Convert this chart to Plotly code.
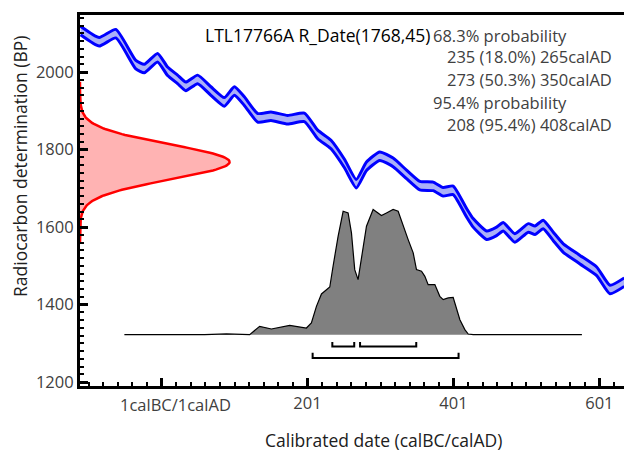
import numpy as np
import plotly.graph_objects as go

# ---------------- data ----------------
sample_label = "LTL17766A R_Date(1768,45)"
rdate_mean = 1768
rdate_sigma = 45

# calibration curve (calendar year, BP centre)
cal_years = [-110, -84.5, -61.7, -34.3, -22.7, -4.5, 9.2, 22.9, 34.3, 50.4, 68.6, 87.0,
             100.7, 114.4, 132.7, 150.9, 173.8, 196.7, 215.0, 233.2, 251.6, 267.8, 281.8,
             300.0, 318.3, 336.7, 354.9, 373.2, 386.9, 400.6, 419.0, 428.0, 446.4, 460.1,
             469.2, 485.2, 503.5, 512.7, 524.0, 537.8, 551.5, 574.4, 597.3, 615.5, 635]
cal_bp = [2107, 2078, 2099, 2019, 2009, 2037, 2002, 1981, 1963, 1981, 1951, 1923,
          1951, 1925, 1882, 1886, 1877, 1883, 1839, 1813, 1764, 1712, 1757,
          1783, 1767, 1736, 1707, 1705, 1691, 1695, 1637, 1611, 1579, 1589,
          1601, 1572, 1598, 1592, 1607, 1576, 1546, 1516, 1486, 1439, 1458]
cal_err = 11

# calibrated probability distribution (relative)
dist_years = [-50, 60, 90, 110, 121.7, 135.4, 151.5, 176.6, 199.5, 206.3, 213.2, 220.1,
              231.5, 236.0, 242.9, 249.8, 256.6, 261.2, 265.7, 270.3, 274.9, 281.8,
              290.9, 297.7, 302.3, 309.2, 318.3, 325.2, 332.0, 338.9, 345.8, 350.3,
              357.2, 361.8, 366.3, 375.5, 382.3, 386.9, 393.8, 400.6, 402.9, 409.8,
              416.6, 421.2, 428.1, 577]
dist_prob = [0, 0, 0.006, 0, 0, 0.066, 0.045, 0.074, 0.053, 0.093, 0.225, 0.324,
             0.379, 0.544, 0.782, 0.981, 0.968, 0.809, 0.517, 0.438, 0.623, 0.862,
             0.995, 0.968, 0.947, 0.968, 0.995, 0.981, 0.862, 0.756, 0.650, 0.517,
             0.504, 0.464, 0.398, 0.398, 0.305, 0.279, 0.292, 0.297, 0.252, 0.119,
             0.040, 0.005, 0, 0]

ranges_68 = [(235, 265), (273, 350)]
ranges_95 = [(208, 408)]

text_lines = ["68.3% probability", "235 (18.0%) 265calAD", "273 (50.3%) 350calAD",
              "95.4% probability", "208 (95.4%) 408calAD"]

x_tickvals = [1, 201, 401, 601]
x_ticktext = ["1calBC/1calAD", "201", "401", "601"]
y_tickvals = [1200, 1400, 1600, 1800, 2000]

# ---------------- layout constants ----------------
XMIN, XMAX = -110.8, 634.7
YMIN, YMAX = 1190.2, 2147.1
W, H = 624, 451
ML, MR, MT, MB = 80, 0, 15, 65
PW, PH = W - ML - MR, H - MT - MB

def px_x(p):
    return (p - ML) / PW

def px_y(p):
    return (H - MB - p) / PH

FONT = "Open Sans"
GREY = "#404040"

fig = go.Figure()

# calibration curve band
cy = np.array(cal_years, dtype=float)
cb = np.array(cal_bp, dtype=float)
fig.add_trace(go.Scatter(x=cy, y=cb + cal_err, mode="lines",
                         line=dict(color="#0000ff", width=3, shape="spline", smoothing=0.5),
                         hoverinfo="skip", showlegend=False))
fig.add_trace(go.Scatter(x=cy, y=cb - cal_err, mode="lines", fill="tonexty",
                         fillcolor="#aab0f8",
                         line=dict(color="#0000ff", width=3, shape="spline", smoothing=0.5),
                         hoverinfo="skip", showlegend=False))

# R_Date gaussian on the y axis
g_bp = np.linspace(rdate_mean - 4.6 * rdate_sigma, rdate_mean + 4.6 * rdate_sigma, 200)
g_w = np.exp(-0.5 * ((g_bp - rdate_mean) / rdate_sigma) ** 2)
g_width = 205.0
gx = XMIN + g_width * g_w
fig.add_trace(go.Scatter(x=np.concatenate([[XMIN], gx, [XMIN]]),
                         y=np.concatenate([[g_bp[0]], g_bp, [g_bp[-1]]]),
                         mode="lines", fill="toself", fillcolor="#ffb3b3",
                         line=dict(color="#ff0000", width=2.5),
                         hoverinfo="skip", showlegend=False))

# calibrated distribution
BASE = 1322.6
SCALE = 324.4
dx = np.array(dist_years, dtype=float)
dy = BASE + SCALE * np.array(dist_prob, dtype=float)
fig.add_trace(go.Scatter(x=dx, y=dy, mode="lines", fill="toself", fillcolor="#808080",
                         line=dict(color="#000000", width=1.2),
                         hoverinfo="skip", showlegend=False))

# range brackets
def bracket(a, b, top, bottom):
    fig.add_trace(go.Scatter(x=[a, a, b, b], y=[top, bottom, bottom, top], mode="lines",
                             line=dict(color="#000000", width=2),
                             hoverinfo="skip", showlegend=False))

for a, b in ranges_68:
    bracket(a, b, 1304, 1292.4)
for a, b in ranges_95:
    bracket(a, b, 1276, 1262.4)

# texts
TS = 16.5
ann = []
ann.append(dict(x=px_x(203), y=px_y(35), xref="paper", yref="paper", text=sample_label,
                showarrow=False, xanchor="left", yanchor="middle",
                font=dict(family=FONT, size=17.5, color="#000000")))
ys = [35, 57, 79.5, 102.5, 125]
for i, t in enumerate(text_lines):
    if "probability" in t:
        ann.append(dict(x=px_x(431), y=px_y(ys[i]), xref="paper", yref="paper", text=t,
                        showarrow=False, xanchor="left", yanchor="middle",
                        font=dict(family=FONT, size=TS, color=GREY)))
    else:
        ann.append(dict(x=px_x(614), y=px_y(ys[i]), xref="paper", yref="paper", text=t,
                        showarrow=False, xanchor="right", yanchor="middle",
                        font=dict(family=FONT, size=TS, color=GREY)))

# first x tick label sits slightly right of its tick in the reference
ann.append(dict(x=px_x(175), y=px_y(405), xref="paper", yref="paper",
                text=x_ticktext[0], showarrow=False, xanchor="center", yanchor="middle",
                font=dict(family=FONT, size=TS, color=GREY)))
tick_text_axis = [""] + x_ticktext[1:]

ann.append(dict(x=px_x(20), y=px_y(167), xref="paper", yref="paper",
                text="Radiocarbon determination (BP)", textangle=-90, showarrow=False,
                xanchor="center", yanchor="middle",
                font=dict(family=FONT, size=17.5, color="#202020")))
ann.append(dict(x=px_x(383), y=px_y(440), xref="paper", yref="paper",
                text="Calibrated date (calBC/calAD)", showarrow=False,
                xanchor="center", yanchor="middle",
                font=dict(family=FONT, size=17.5, color="#202020")))

fig.update_layout(
    width=W, height=H,
    margin=dict(l=ML, r=MR, t=MT, b=MB, pad=0),
    paper_bgcolor="white", plot_bgcolor="white",
    annotations=ann,
    showlegend=False,
    xaxis=dict(range=[XMIN, XMAX], showgrid=False, zeroline=False,
               showline=True, linecolor="black", linewidth=3, mirror=True,
               ticks="inside", ticklen=8, tickwidth=2.5, tickcolor="black",
               tickvals=x_tickvals, ticktext=tick_text_axis,
               tickfont=dict(family=FONT, size=TS, color=GREY),
               minor=dict(tick0=1, dtick=20, ticks="inside", ticklen=4,
                          tickwidth=1.5, tickcolor="black", showgrid=False)),
    yaxis=dict(range=[YMIN, YMAX], showgrid=False, zeroline=False,
               showline=True, linecolor="black", linewidth=3,
               ticks="inside", ticklen=8, tickwidth=2.5, tickcolor="black",
               tickvals=y_tickvals,
               tickfont=dict(family=FONT, size=TS, color=GREY),
               minor=dict(tick0=1200, dtick=20, ticks="inside", ticklen=4,
                          tickwidth=1.5, tickcolor="black", showgrid=False)),
)

fig.write_html("out.html", config={"displayModeBar": False},
               post_script="document.body.style.margin='0px';document.body.style.overflow='hidden';")
